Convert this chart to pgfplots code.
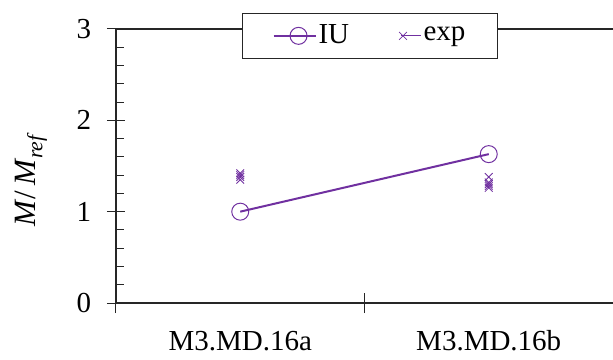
\documentclass[border=0pt]{standalone}
\usepackage{fontspec}
\setmainfont{Liberation Serif}
\usepackage{pgfplots}
\pgfplotsset{compat=1.18}
\definecolor{pur}{HTML}{7030A0}
\pgfplotsset{
  iuimg/.style={legend image code/.code={\path (-8pt,0pt) -- (34pt,0pt); \draw[##1, mark repeat=2, mark phase=2] plot coordinates {(0pt,0pt) (17pt,0pt) (34pt,0pt)};}},
  eximg/.style={legend image code/.code={\path (-2pt,0pt) -- (18pt,0pt); \draw[##1] plot coordinates {(0pt,0pt)};}},
}
\begin{document}
\fontsize{29}{33}\selectfont
\begin{tikzpicture}
\begin{axis}[
  scale only axis, width=497pt, height=274pt,
  at={(0,0)}, anchor=south west,
  xmin=-0.5, xmax=1.5, ymin=0, ymax=3,
  axis x line=box, axis y line=left,
  axis line style={-, line width=1.1pt, black!85},
  xtick={0,1}, xticklabels={M3.MD.16a, M3.MD.16b},
  xtick pos=bottom, ytick pos=left,
  x tick style={draw=none},
  extra x ticks={-0.5,0.5,1.5}, extra x tick labels={},
  extra x tick style={xtick align=center, major tick length=20pt, x tick style={draw=black!85, line width=1pt}},
  ytick={0,1,2,3}, ytick align=center, major tick length=18pt,
  y tick style={black!85, line width=1pt},
  extra y ticks={0.2,0.4,0.6,0.8,1.2,1.4,1.6,1.8,2.2,2.4,2.6,2.8},
  extra y tick labels={},
  extra y tick style={ytick align=inside, major tick length=8pt},
  xticklabel style={font=\fontsize{29}{33}\selectfont, yshift=-18pt},
  yticklabel style={font=\fontsize{29}{33}\selectfont, xshift=-6pt},
  /pgf/number format/assume math mode=true,
  ylabel={\textit{M}/\,\textit{M}\textsubscript{\textit{ref}}},
  ylabel style={font=\fontsize{31}{35}\selectfont, at={(ticklabel cs:0.45)}, anchor=south, yshift=1pt},
  legend columns=2,
  legend style={at={(rel axis cs:0.511,0.975)}, anchor=center, draw=black!85, line width=1pt, fill=white,
    font=\fontsize{29}{33}\selectfont, inner xsep=30pt, inner ysep=9pt,
    /tikz/every even column/.append style={column sep=48pt}},
  clip=false,
]
\addplot[color=pur, line width=2pt, mark=o, mark size=8.5pt, mark options={line width=1pt}, iuimg]
  coordinates {(0,1.0) (1,1.63)};
\addlegendentry{IU}
\addplot[only marks, color=pur, mark=x, mark size=5.5pt, mark options={line width=0.8pt}, eximg]
  coordinates {
(0,1.42) (0,1.40) (0,1.38) (0,1.35)
(1,1.38) (1,1.32) (1,1.30) (1,1.28) (1,1.26)};
\addlegendentry{exp}
\end{axis}
\pgfresetboundingbox
\path (-116pt,-56pt) rectangle (497pt,303pt);
\end{tikzpicture}
\end{document}
